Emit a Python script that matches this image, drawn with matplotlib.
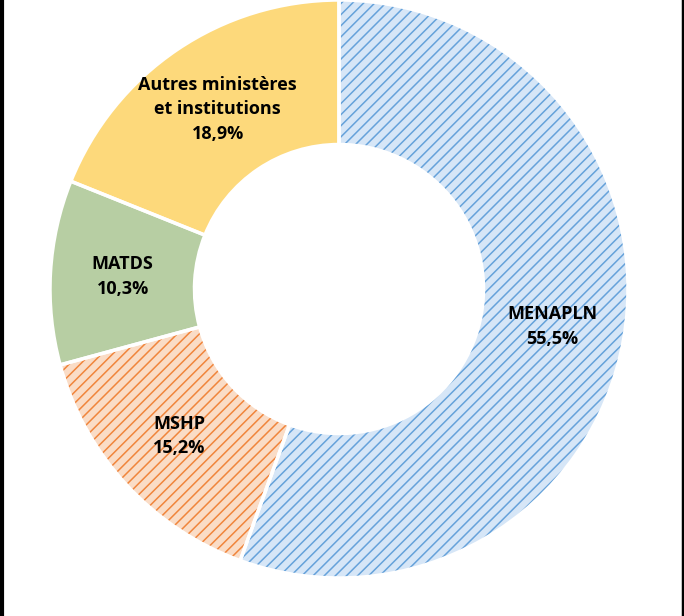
import numpy as np
import matplotlib

matplotlib.use("Agg")
import matplotlib.pyplot as plt
from matplotlib.lines import Line2D

# data
labels = ["MENAPLN", "MSHP", "MATDS", "Autres ministères\net institutions"]
shares = [55.5, 15.2, 10.3, 18.9]
fills = ["#d6e6f7", "#fadcc6", "#b7cea3", "#fdd97b"]
hatch_colors = ["#66a2da", "#f0853c", "#b7cea3", "#fdd97b"]
hatches = ["///", "///", None, None]

plt.rcParams["font.family"] = ["Open Sans", "DejaVu Sans"]
plt.rcParams["hatch.linewidth"] = 1.1

fig = plt.figure(figsize=(6.84, 6.16), dpi=100)
ax = fig.add_axes([50 / 684, 38 / 616, 578 / 684, 578 / 616])

wedges, _ = ax.pie(
    shares,
    startangle=90,
    counterclock=False,
    radius=1.0,
    wedgeprops=dict(width=0.5, linewidth=0),
)
for w, fc, hc, h in zip(wedges, fills, hatch_colors, hatches):
    w.set_facecolor(fc)
    w.set_edgecolor(hc)
    w.set_linewidth(0)
    if h:
        w.set_hatch(h)

# white separators on top
ax.pie(
    shares,
    startangle=90,
    counterclock=False,
    radius=1.0,
    colors=["none"] * len(shares),
    wedgeprops=dict(width=0.5, linewidth=2.5, edgecolor="white"),
)

for w, lab, val in zip(wedges, labels, shares):
    mid = np.deg2rad((w.theta1 + w.theta2) / 2)
    r = 0.75
    txt = f"{lab}\n{val:.1f}%".replace(".", ",")
    ax.text(r * np.cos(mid), r * np.sin(mid), txt, ha="center", va="center",
            fontsize=13, fontweight="bold", color="black", linespacing=1.45)

ax.set_xlim(-1, 1)
ax.set_ylim(-1, 1)
ax.set_aspect("equal")
ax.axis("off")

# side borders
fig.add_artist(Line2D([2 / 684, 2 / 684], [0, 1], transform=fig.transFigure, color="black", linewidth=3))
fig.add_artist(Line2D([682.5 / 684, 682.5 / 684], [0, 1], transform=fig.transFigure, color="black", linewidth=2.5))

fig.savefig("out.png", dpi=100)
plt.close(fig)
